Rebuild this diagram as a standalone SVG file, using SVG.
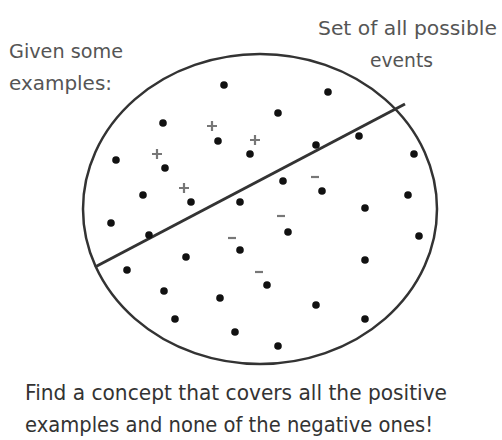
<svg xmlns="http://www.w3.org/2000/svg" width="502" height="440" viewBox="0 0 502 440">
<style>
.lbl{font-family:"DejaVu Sans","Liberation Sans",sans-serif;font-size:20px;fill:#555}
.bot{font-family:"DejaVu Sans","Liberation Sans",sans-serif;font-size:21px;fill:#333}
.dot{fill:#111}
.pm{stroke:#777;stroke-width:2.2;fill:none}
</style>
<rect width="502" height="440" fill="#fff"/>
<g id="set">
<ellipse cx="260" cy="209" rx="177" ry="155" fill="none" stroke="#333" stroke-width="2.5"/>
</g>
<g id="connectors">
<line x1="95" y1="267" x2="405" y2="104" stroke="#333" stroke-width="3"/>
</g>
<g id="dots">
<circle class="dot" cx="224" cy="85" r="3.8"/>
<circle class="dot" cx="328" cy="92" r="3.8"/>
<circle class="dot" cx="278" cy="113" r="3.8"/>
<circle class="dot" cx="163" cy="123" r="3.8"/>
<circle class="dot" cx="218" cy="141" r="3.8"/>
<circle class="dot" cx="359" cy="136" r="3.8"/>
<circle class="dot" cx="316" cy="145" r="3.8"/>
<circle class="dot" cx="250" cy="154" r="3.8"/>
<circle class="dot" cx="116" cy="160" r="3.8"/>
<circle class="dot" cx="165" cy="168" r="3.8"/>
<circle class="dot" cx="143" cy="195" r="3.8"/>
<circle class="dot" cx="191" cy="202" r="3.8"/>
<circle class="dot" cx="240" cy="202" r="3.8"/>
<circle class="dot" cx="414" cy="154" r="3.8"/>
<circle class="dot" cx="283" cy="181" r="3.8"/>
<circle class="dot" cx="322" cy="191" r="3.8"/>
<circle class="dot" cx="408" cy="195" r="3.8"/>
<circle class="dot" cx="365" cy="208" r="3.8"/>
<circle class="dot" cx="111" cy="223" r="3.8"/>
<circle class="dot" cx="149" cy="235" r="3.8"/>
<circle class="dot" cx="288" cy="232" r="3.8"/>
<circle class="dot" cx="419" cy="236" r="3.8"/>
<circle class="dot" cx="240" cy="250" r="3.8"/>
<circle class="dot" cx="186" cy="257" r="3.8"/>
<circle class="dot" cx="365" cy="260" r="3.8"/>
<circle class="dot" cx="127" cy="270" r="3.8"/>
<circle class="dot" cx="267" cy="285" r="3.8"/>
<circle class="dot" cx="164" cy="291" r="3.8"/>
<circle class="dot" cx="220" cy="298" r="3.8"/>
<circle class="dot" cx="316" cy="305" r="3.8"/>
<circle class="dot" cx="175" cy="319" r="3.8"/>
<circle class="dot" cx="365" cy="319" r="3.8"/>
<circle class="dot" cx="235" cy="332" r="3.8"/>
<circle class="dot" cx="278" cy="346" r="3.8"/>
</g>
<g id="positives">
<path class="pm" d="M207 126h10M212 121v10"/>
<path class="pm" d="M250 140h10M255 135v10"/>
<path class="pm" d="M152 154h10M157 149v10"/>
<path class="pm" d="M179 188h10M184 183v10"/>
</g>
<g id="negatives">
<path class="pm" d="M311 177h8" stroke-width="2.6"/>
<path class="pm" d="M277 216h8" stroke-width="2.6"/>
<path class="pm" d="M228 238h8" stroke-width="2.6"/>
<path class="pm" d="M255 272h8" stroke-width="2.6"/>
</g>
<g id="labels">
<text class="lbl" x="9" y="58" textLength="114" lengthAdjust="spacingAndGlyphs">Given some</text>
<text class="lbl" x="9" y="90" textLength="103" lengthAdjust="spacingAndGlyphs">examples:</text>
<text class="lbl" x="318" y="35" textLength="179" lengthAdjust="spacingAndGlyphs">Set of all possible</text>
<text class="lbl" x="370" y="67" textLength="63" lengthAdjust="spacingAndGlyphs">events</text>
<text class="bot" x="25" y="400" textLength="422" lengthAdjust="spacingAndGlyphs">Find a concept that covers all the positive</text>
<text class="bot" x="25" y="432" textLength="408" lengthAdjust="spacingAndGlyphs">examples and none of the negative ones!</text>
</g>
</svg>
